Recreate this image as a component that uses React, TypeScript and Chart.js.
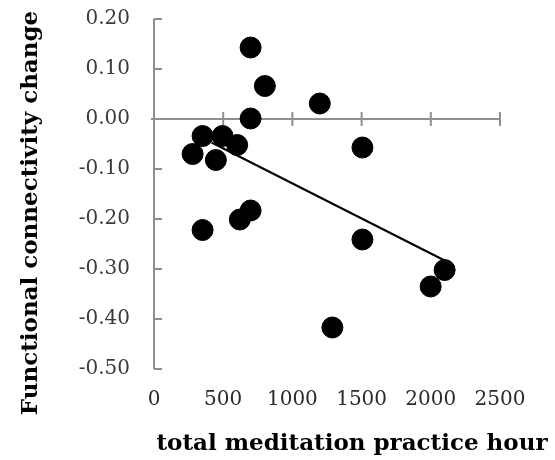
import React, { useEffect, useRef } from "react";
import { Chart, registerables } from "chart.js";

Chart.register(...registerables);

const hours = [698, 801, 698, 1198, 351, 495, 601, 279, 447, 1506, 698, 620, 351, 1506, 1289, 1999, 2100];
const change = [0.143, 0.066, 0.001, 0.031, -0.034, -0.034, -0.052, -0.07, -0.082, -0.057, -0.183, -0.201, -0.222, -0.241, -0.417, -0.335, -0.302];
const trendHours = [416, 2100];
const trendChange = [-0.047, -0.283];
const xTicks = [0, 500, 1000, 1500, 2000, 2500];
const yTicks = [0.2, 0.1, 0.0, -0.1, -0.2, -0.3, -0.4, -0.5];
const xTitle = "total meditation practice hour";
const yTitle = "Functional connectivity change";

const axisColor = "#8f8f8f";

const axesPlugin = {
  id: "customAxes",
  beforeDatasetsDraw(chart: any) {
    const { ctx, scales } = chart;
    const xs = scales.x;
    const ys = scales.y;
    const x0 = xs.getPixelForValue(0);
    const y0 = ys.getPixelForValue(0);
    ctx.save();
    ctx.strokeStyle = axisColor;
    ctx.lineWidth = 2;
    ctx.beginPath();
    ctx.moveTo(x0, ys.getPixelForValue(0.2));
    ctx.lineTo(x0, ys.getPixelForValue(-0.5));
    for (const v of yTicks) {
      const py = ys.getPixelForValue(v);
      ctx.moveTo(x0 - (Math.abs(v) < 1e-9 ? 3 : 0), py);
      ctx.lineTo(x0 + 8, py);
    }
    ctx.moveTo(x0, y0);
    ctx.lineTo(xs.getPixelForValue(2500), y0);
    for (const v of xTicks) {
      if (v === 0) continue;
      const px = xs.getPixelForValue(v);
      ctx.moveTo(px, y0 - 7);
      ctx.lineTo(px, y0 + 7);
    }
    ctx.stroke();
    ctx.restore();
  },
  afterDraw(chart: any) {
    const { ctx } = chart;
    ctx.save();
    ctx.fillStyle = "#000";
    ctx.textAlign = "center";
    ctx.textBaseline = "alphabetic";
    ctx.font = "bold 23px 'DejaVu Serif'";
    ctx.fillText(xTitle, 352, 450);
    ctx.translate(37, 213);
    ctx.rotate(-Math.PI / 2);
    ctx.fillText(yTitle, 0, 0);
    ctx.restore();
  },
};

export default function App() {
  const ref = useRef<HTMLCanvasElement | null>(null);
  useEffect(() => {
    if (!ref.current) return;
    const chart = new Chart(ref.current, {
      type: "scatter",
      data: {
        datasets: [
          {
            type: "scatter",
            data: hours.map((h, i) => ({ x: h, y: change[i] })),
            backgroundColor: "#000",
            borderColor: "#000",
            pointRadius: 10.5,
            pointHoverRadius: 10.5,
            order: 2,
          },
          {
            type: "line",
            data: trendHours.map((h, i) => ({ x: h, y: trendChange[i] })),
            borderColor: "#000",
            borderWidth: 2,
            pointRadius: 0,
            fill: false,
            order: 1,
          } as any,
        ],
      },
      options: {
        animation: false,
        responsive: false,
        plugins: { legend: { display: false }, tooltip: { enabled: false } },
        layout: { autoPadding: false, padding: { top: 19, right: 55, left: 0, bottom: 0 } },
        scales: {
          x: {
            type: "linear",
            min: 0,
            max: 2500,
            afterBuildTicks: (s: any) => {
              s.ticks = xTicks.map((v) => ({ value: v }));
            },
            afterFit: (s: any) => {
              s.height = 91;
              s.paddingLeft = 0;
              s.paddingRight = 0;
            },
            border: { display: false },
            grid: { display: false, drawTicks: false },
            ticks: {
              padding: 19,
              color: "#2a2a2a",
              font: { family: "DejaVu Serif", size: 20 },
              callback: (v: any) => String(v),
            },
            title: { display: false },
          },
          y: {
            type: "linear",
            min: -0.5,
            max: 0.2,
            afterBuildTicks: (s: any) => {
              s.ticks = yTicks.map((v) => ({ value: v }));
            },
            afterFit: (s: any) => {
              s.width = 154;
              s.paddingTop = 0;
              s.paddingBottom = 0;
            },
            border: { display: false },
            grid: { display: false, drawTicks: false },
            ticks: {
              padding: 24,
              color: "#3a3a3a",
              font: { family: "DejaVu Serif", size: 20 },
              callback: (v: any) => {
                const n = Number(v);
                return (Math.abs(n) < 1e-9 ? 0 : n).toFixed(2);
              },
            },
            title: { display: false },
          },
        },
      },
      plugins: [axesPlugin],
    });
    return () => chart.destroy();
  }, []);
  return (
    <div style={{ position: "fixed", left: 0, top: 0, width: 555, height: 460, background: "#fff" }}>
      <canvas ref={ref} width={555} height={460} style={{ width: 555, height: 460 }} />
    </div>
  );
}
